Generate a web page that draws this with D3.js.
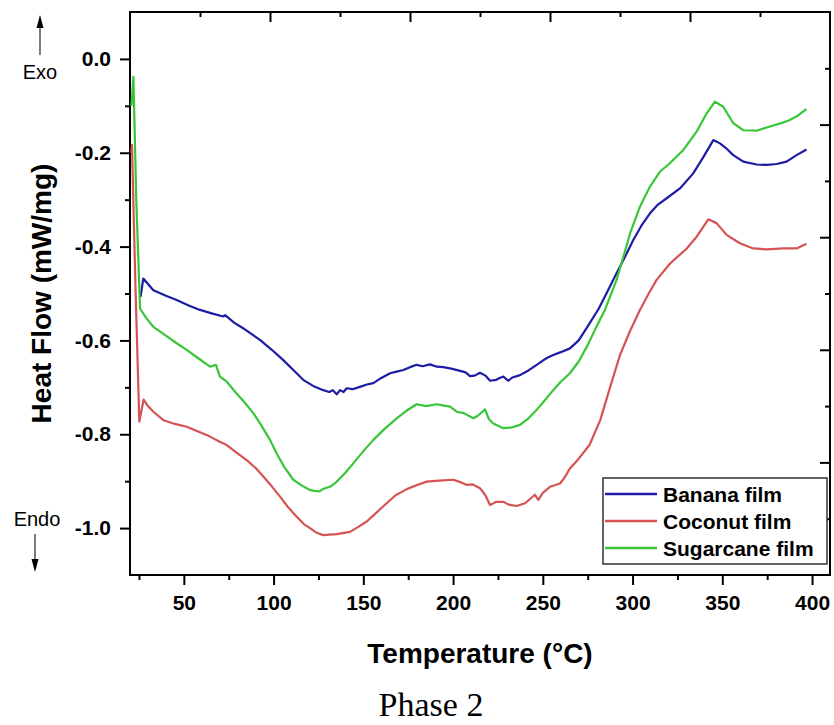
<!DOCTYPE html>
<html>
<head>
<meta charset="utf-8">
<script src="https://cdn.jsdelivr.net/npm/d3@7"></script>
<style>
  body { margin: 0; background: #fff; }
  svg { display: block; }
  text { font-family: "Liberation Sans", Arial, sans-serif; }
</style>
</head>
<body>
<svg id="chart"></svg>
<script>
// DSC curves, phase 2 (temperature in °C, heat flow in mW/mg)
const bananaT = [25.9, 27.4, 33, 40, 46, 53, 59, 66, 72, 73, 78, 83, 92.4, 99, 105.4, 111, 116.5, 122, 127.7, 131, 133, 135.2, 137, 139, 140.7, 144, 148.1, 152, 155.6, 160, 164.9, 168, 172.3, 176, 179.7, 183, 187.1, 191, 194.6, 199, 203.9, 207, 209.4, 212, 215, 218, 220.6, 224, 226, 228, 230.8, 233, 237.3, 242, 246.6, 250, 252, 255.8, 260, 265.1, 270, 275, 281.2, 286, 291.1, 296, 300.4, 305, 309.7, 314, 319, 326.4, 333.8, 339, 345, 348.7, 352, 356.1, 361.7, 369.1, 375, 380.3, 385.8, 391.4, 396.9];
const bananaHF = [-0.507, -0.468, -0.493, -0.505, -0.514, -0.526, -0.535, -0.543, -0.549, -0.546, -0.562, -0.574, -0.599, -0.620, -0.642, -0.663, -0.684, -0.697, -0.706, -0.710, -0.706, -0.715, -0.706, -0.710, -0.702, -0.704, -0.699, -0.694, -0.691, -0.680, -0.670, -0.667, -0.663, -0.657, -0.652, -0.655, -0.651, -0.656, -0.657, -0.660, -0.665, -0.668, -0.676, -0.675, -0.669, -0.675, -0.686, -0.684, -0.680, -0.677, -0.686, -0.679, -0.674, -0.664, -0.652, -0.643, -0.638, -0.631, -0.625, -0.617, -0.600, -0.570, -0.532, -0.496, -0.457, -0.420, -0.386, -0.355, -0.329, -0.311, -0.297, -0.276, -0.244, -0.212, -0.173, -0.180, -0.190, -0.205, -0.219, -0.225, -0.226, -0.224, -0.219, -0.205, -0.193];

const coconutT = [20.7, 21.1, 23, 25.2, 27.6, 30, 33, 38.6, 45, 51.6, 58, 64.6, 70, 73.9, 79, 85, 90, 94.3, 99, 103.6, 108, 112.9, 117, 120.3, 124, 127.7, 131, 135.2, 142.6, 147, 151.9, 157, 163, 168, 174.2, 180, 185.3, 192, 200.2, 204, 207.6, 211, 215, 218, 220.6, 224, 228, 231, 235.4, 240.1, 245.6, 247.5, 250, 254, 259.6, 262, 265.1, 270, 276, 282, 287, 293, 298.6, 304.1, 309, 313.4, 320.9, 330.2, 335.7, 339, 342.2, 346.8, 352.4, 359.8, 367.2, 374.7, 384, 391.4, 396.9];
const coconutHF = [-0.20, -0.183, -0.48, -0.773, -0.726, -0.740, -0.752, -0.770, -0.778, -0.784, -0.794, -0.805, -0.816, -0.823, -0.838, -0.855, -0.872, -0.890, -0.911, -0.933, -0.955, -0.976, -0.992, -1.000, -1.010, -1.015, -1.014, -1.013, -1.008, -0.998, -0.986, -0.968, -0.947, -0.930, -0.917, -0.908, -0.901, -0.899, -0.897, -0.902, -0.908, -0.907, -0.915, -0.930, -0.951, -0.944, -0.944, -0.950, -0.953, -0.947, -0.929, -0.940, -0.925, -0.912, -0.905, -0.893, -0.873, -0.852, -0.823, -0.770, -0.706, -0.631, -0.580, -0.535, -0.500, -0.471, -0.436, -0.404, -0.379, -0.360, -0.342, -0.350, -0.375, -0.393, -0.404, -0.406, -0.404, -0.404, -0.394];

const sugarcaneT = [20.8, 21.9, 23.5, 25.6, 29, 33, 40, 46, 51.6, 58, 64.6, 67.9, 70.1, 73.9, 79.4, 84, 88.7, 93, 98, 101.7, 106, 111, 116, 120.3, 125.3, 128, 131.4, 135, 140, 144.4, 150, 155.6, 162, 168.6, 174, 179.7, 185, 190.9, 195, 198.3, 202, 206, 211.3, 214, 217.8, 220, 222.4, 228, 232, 237.3, 242, 246.6, 251, 255.8, 260, 265.1, 270, 275, 280, 284.6, 291.1, 295, 298.6, 304.1, 309.7, 315.3, 320, 324.6, 328.3, 335.7, 341.3, 345.9, 350.5, 356.1, 361.7, 369.1, 376.5, 382, 387.6, 392, 396.9];
const sugarcaneHF = [-0.10, -0.038, -0.30, -0.532, -0.552, -0.571, -0.590, -0.606, -0.620, -0.638, -0.656, -0.652, -0.677, -0.688, -0.713, -0.733, -0.755, -0.780, -0.812, -0.841, -0.870, -0.897, -0.910, -0.919, -0.922, -0.916, -0.912, -0.902, -0.882, -0.862, -0.836, -0.812, -0.788, -0.766, -0.750, -0.736, -0.740, -0.736, -0.739, -0.741, -0.752, -0.755, -0.766, -0.760, -0.747, -0.768, -0.777, -0.787, -0.786, -0.780, -0.766, -0.748, -0.728, -0.706, -0.688, -0.670, -0.645, -0.610, -0.570, -0.535, -0.471, -0.420, -0.372, -0.315, -0.272, -0.240, -0.225, -0.208, -0.194, -0.155, -0.116, -0.091, -0.102, -0.137, -0.152, -0.153, -0.144, -0.138, -0.130, -0.121, -0.107];

const seriesNames = ["Banana film", "Coconut film", "Sugarcane film"];
const seriesColors = ["#1c1ca4", "#d65353", "#38c638"];

const xMajorTicks = [50, 100, 150, 200, 250, 300, 350, 400];
const xMinorTicks = [25, 75, 125, 175, 225, 275, 325, 375];
const yMajorTicks = [0, -0.2, -0.4, -0.6, -0.8, -1.0];
const yMinorTicks = [-0.1, -0.3, -0.5, -0.7, -0.9];
// the mirrored top/right axes carry their own unlabeled tick spacing
const mirrorMajor = [2, 4, 6, 8];
const mirrorMinor = [1, 3, 5, 7, 9];

const width = 834, height = 725;
const margin = {top: 12, right: 4, bottom: 150, left: 130};

const svg = d3.select("#chart").attr("width", width).attr("height", height);

const x = d3.scaleLinear().domain([20, 410]).range([margin.left, width - margin.right]);
const y = d3.scaleLinear().domain([-1.1, 0.1]).range([height - margin.bottom, margin.top]);
const xTop = d3.scaleLinear().domain([0, 10]).range(x.range());
const yRight = d3.scaleLinear().domain([0, 10]).range([margin.top, height - margin.bottom]);

const plotBottom = height - margin.bottom;
const plotRight = width - margin.right;

function styleAxis(g) {
  g.select(".domain").remove();
  g.selectAll(".tick line").attr("stroke", "#000").attr("stroke-width", 2);
  g.selectAll(".tick text")
    .attr("fill", "#000")
    .style("font-size", "21px")
    .style("font-weight", "bold");
}

// bottom axis
svg.append("g")
  .attr("transform", `translate(0, ${plotBottom})`)
  .call(d3.axisBottom(x).tickValues(xMajorTicks).tickSize(10).tickPadding(10).tickFormat(d3.format("d")))
  .call(styleAxis);
svg.append("g")
  .attr("transform", `translate(0, ${plotBottom})`)
  .call(d3.axisBottom(x).tickValues(xMinorTicks).tickSize(5).tickFormat(""))
  .call(styleAxis);

// left axis
svg.append("g")
  .attr("transform", `translate(${margin.left}, 0)`)
  .call(d3.axisLeft(y).tickValues(yMajorTicks).tickSize(10).tickPadding(9).tickFormat(d => d3.format(".1f")(d).replace("−", "-")))
  .call(styleAxis);
svg.append("g")
  .attr("transform", `translate(${margin.left}, 0)`)
  .call(d3.axisLeft(y).tickValues(yMinorTicks).tickSize(5).tickFormat(""))
  .call(styleAxis);

// top axis, ticks inward
svg.append("g")
  .attr("transform", `translate(0, ${margin.top})`)
  .call(d3.axisBottom(xTop).tickValues(mirrorMajor).tickSize(10).tickFormat(""))
  .call(styleAxis);
svg.append("g")
  .attr("transform", `translate(0, ${margin.top})`)
  .call(d3.axisBottom(xTop).tickValues(mirrorMinor).tickSize(5).tickFormat(""))
  .call(styleAxis);

// right axis, ticks inward
svg.append("g")
  .attr("transform", `translate(${plotRight}, 0)`)
  .call(d3.axisLeft(yRight).tickValues(mirrorMajor).tickSize(10).tickFormat(""))
  .call(styleAxis);
svg.append("g")
  .attr("transform", `translate(${plotRight}, 0)`)
  .call(d3.axisLeft(yRight).tickValues(mirrorMinor).tickSize(5).tickFormat(""))
  .call(styleAxis);

// frame
svg.append("rect")
  .attr("x", margin.left).attr("y", margin.top)
  .attr("width", plotRight - margin.left).attr("height", plotBottom - margin.top)
  .attr("fill", "none").attr("stroke", "#000").attr("stroke-width", 2);

// curves
const series = [
  {T: bananaT, HF: bananaHF},
  {T: coconutT, HF: coconutHF},
  {T: sugarcaneT, HF: sugarcaneHF}
];

const line = d3.line()
  .x(d => x(d[0]))
  .y(d => y(d[1]));

series.forEach((s, i) => {
  svg.append("path")
    .datum(d3.zip(s.T, s.HF))
    .attr("fill", "none")
    .attr("stroke", seriesColors[i])
    .attr("stroke-width", 2.2)
    .attr("stroke-linejoin", "round")
    .attr("d", line);
});

// legend
const legend = svg.append("g");
legend.append("rect")
  .attr("x", 603).attr("y", 478).attr("width", 224).attr("height", 86)
  .attr("fill", "#fff").attr("stroke", "#333").attr("stroke-width", 1.5);

seriesNames.forEach((name, i) => {
  const cy = 494 + i * 27;
  legend.append("line")
    .attr("x1", 605).attr("x2", 657).attr("y1", cy).attr("y2", cy)
    .attr("stroke", seriesColors[i]).attr("stroke-width", 2.5);
  legend.append("text")
    .attr("x", 663).attr("y", cy + 7.5)
    .style("font-size", "21px").style("font-weight", "bold")
    .text(name);
});

// axis titles
svg.append("text")
  .attr("x", (margin.left + plotRight) / 2)
  .attr("y", 663)
  .attr("text-anchor", "middle")
  .style("font-size", "28px").style("font-weight", "bold")
  .text("Temperature (°C)");

svg.append("text")
  .attr("transform", `translate(51, ${(margin.top + plotBottom) / 2}) rotate(-90)`)
  .attr("text-anchor", "middle")
  .style("font-size", "28px").style("font-weight", "bold")
  .text("Heat Flow (mW/mg)");

svg.append("text")
  .attr("x", 431).attr("y", 716)
  .attr("text-anchor", "middle")
  .style("font-family", "'Liberation Serif', 'Times New Roman', serif")
  .style("font-size", "34px")
  .text("Phase 2");

// Exo / Endo markers: stem plus filled head
function arrow(xPos, yFrom, yTip) {
  const dir = yTip < yFrom ? -1 : 1;
  const headLen = 13, headHalf = 3.5;
  svg.append("line")
    .attr("x1", xPos).attr("y1", yFrom)
    .attr("x2", xPos).attr("y2", yTip - dir * headLen)
    .attr("stroke", "#444").attr("stroke-width", 1.4);
  svg.append("path")
    .attr("d", `M${xPos},${yTip} L${xPos - headHalf},${yTip - dir * headLen} L${xPos + headHalf},${yTip - dir * headLen} Z`)
    .attr("fill", "#000");
}

arrow(40, 55, 15);
svg.append("text")
  .attr("x", 40).attr("y", 79).attr("text-anchor", "middle")
  .style("font-size", "20px").text("Exo");

svg.append("text")
  .attr("x", 37).attr("y", 526).attr("text-anchor", "middle")
  .style("font-size", "20px").text("Endo");
arrow(35, 534, 572);
</script>
</body>
</html>
